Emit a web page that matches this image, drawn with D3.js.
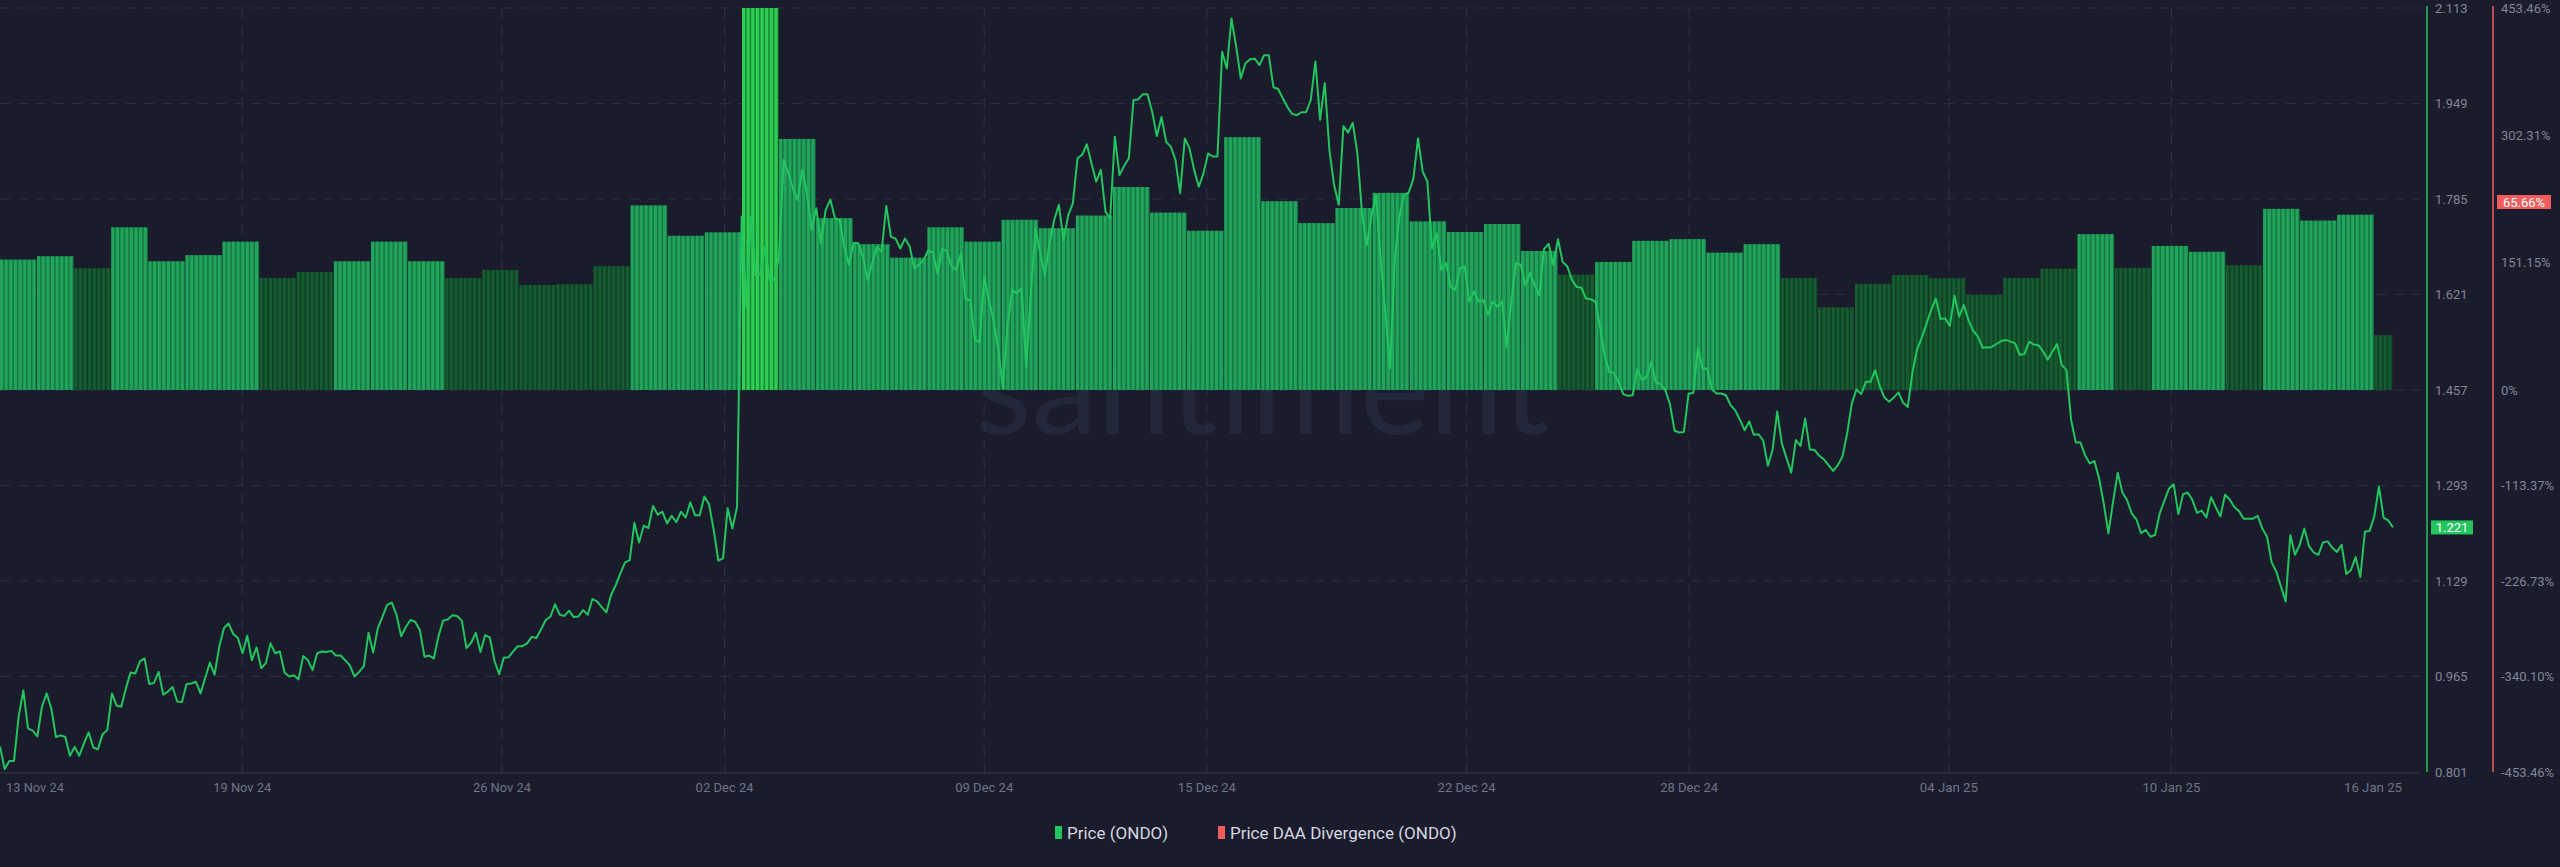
<!DOCTYPE html>
<html><head><meta charset="utf-8">
<script src="https://cdn.jsdelivr.net/npm/d3@7"></script>
<style>html,body{margin:0;padding:0;background:#1a1c2b;overflow:hidden}svg{display:block}</style>
</head><body>
<svg id="c" width="2560" height="867"></svg>
<script>
// ---- data ----
const startDate = "2024-11-13T00:00:00Z";
const priceEndDate = "2025-01-16T12:00:00Z";
const priceTicks = [0.801, 0.965, 1.129, 1.293, 1.457, 1.621, 1.785, 1.949, 2.113];
const divTickLabels = ["-453.46%", "-340.10%", "-226.73%", "-113.37%", "0%", "151.15%", "302.31%", "453.46%"];
const divTickValues = [-453.46, -340.10, -226.73, -113.37, 0, 151.15, 302.31, 453.46];
const dateTicks = ["2024-11-13","2024-11-19","2024-11-26","2024-12-02","2024-12-09","2024-12-15","2024-12-22","2024-12-28","2025-01-04","2025-01-10","2025-01-16"];
const dateLabels = ["13 Nov 24","19 Nov 24","26 Nov 24","02 Dec 24","09 Dec 24","15 Dec 24","22 Dec 24","28 Dec 24","04 Jan 25","10 Jan 25","16 Jan 25"];
// daily Price DAA divergence (%), one per day from 13 Nov 24
const divergence = [154.7,158.7,144.4,193,152.7,160,176,133,140,152.7,176,152.7,133,142.5,124.6,125.4,147,219,183,187,
 520,298,204,173,157,193,176,202,192,207,241,210.5,189,300,224,198,216,234,200,187.5,197,165,137,
 152,177,179,163,173,133,98,126,136.5,132.6,113,133,144,185,145,171,164,148,215,201,208,65];
// price (ONDO), 3-hourly
const price = [0.845,0.806,0.820,0.820,0.896,0.941,0.876,0.872,0.862,0.913,0.936,0.910,0.861,0.864,0.861,0.829,0.844,0.829,0.850,0.869,
0.843,0.840,0.866,0.873,0.936,0.915,0.913,0.945,0.972,0.970,0.991,0.996,0.952,0.954,0.973,0.934,0.939,0.947,0.922,0.921,
0.952,0.953,0.956,0.936,0.963,0.989,0.968,1.016,1.048,1.056,1.038,1.031,1.005,1.035,0.993,1.015,0.979,0.988,1.022,1.005,
1.008,0.972,0.965,0.967,0.960,1.000,0.993,0.976,1.005,1.008,1.007,1.009,1.001,1.001,0.993,0.984,0.965,0.973,0.983,1.040,
1.006,1.048,1.068,1.088,1.092,1.071,1.034,1.050,1.062,1.059,1.045,0.999,1.001,0.996,1.034,1.061,1.063,1.070,1.069,1.061,
1.014,1.023,1.040,1.007,1.036,1.032,0.992,0.969,0.997,0.998,1.008,1.017,1.017,1.022,1.033,1.031,1.046,1.062,1.068,1.089,
1.071,1.069,1.078,1.067,1.068,1.079,1.071,1.098,1.094,1.084,1.075,1.105,1.122,1.142,1.161,1.165,1.229,1.195,1.224,1.220,
1.258,1.243,1.248,1.228,1.241,1.230,1.248,1.238,1.264,1.242,1.242,1.274,1.261,1.217,1.164,1.168,1.254,1.219,1.256,
1.755,1.600,1.755,1.654,1.656,1.703,1.646,1.646,1.686,1.852,1.829,1.803,1.783,1.835,1.795,1.732,1.769,1.709,1.766,1.784,
1.752,1.749,1.703,1.672,1.710,1.709,1.686,1.646,1.675,1.702,1.695,1.773,1.720,1.717,1.700,1.717,1.704,1.666,1.672,1.680,
1.697,1.693,1.657,1.700,1.695,1.669,1.663,1.692,1.613,1.611,1.544,1.539,1.652,1.611,1.577,1.526,1.460,1.569,1.629,1.623,
1.632,1.497,1.623,1.735,1.692,1.654,1.709,1.749,1.775,1.714,1.757,1.778,1.855,1.861,1.879,1.846,1.815,1.835,1.763,1.752,
1.892,1.826,1.842,1.855,1.955,1.956,1.965,1.965,1.935,1.893,1.926,1.883,1.875,1.852,1.795,1.889,1.872,1.835,1.806,
1.829,1.863,1.858,1.858,2.038,2.009,2.095,2.047,1.992,2.018,2.025,2.026,2.015,2.032,2.032,1.977,1.974,1.958,1.943,1.931,
1.929,1.934,1.934,1.955,2.021,1.921,1.984,1.869,1.809,1.775,1.910,1.899,1.916,1.863,1.760,1.706,1.755,1.792,1.680,1.589,
1.494,1.680,1.755,1.792,1.796,1.820,1.889,1.832,1.815,1.700,1.726,1.663,1.675,1.634,1.629,1.666,1.669,1.609,1.626,1.609,
1.611,1.586,1.609,1.600,1.609,1.531,1.609,1.675,1.672,1.637,1.658,1.637,1.620,1.699,1.708,1.672,1.716,1.677,1.669,1.646,
1.634,1.633,1.614,1.613,1.609,1.566,1.517,1.488,1.486,1.471,
1.450,1.447,1.448,1.492,1.474,1.480,1.505,1.470,1.467,1.457,1.433,1.387,1.384,1.385,1.451,1.452,1.529,1.494,1.494,1.458,
1.451,1.451,1.448,1.431,1.422,1.406,1.388,1.403,1.380,1.381,1.370,1.327,1.354,1.420,1.365,1.340,1.315,1.371,1.361,1.408,
1.355,1.354,1.344,1.338,1.328,1.318,1.328,1.343,1.383,1.434,1.458,1.450,1.471,1.471,1.491,1.463,1.444,1.437,1.444,1.453,
1.435,1.428,1.488,1.527,1.547,1.571,1.594,1.614,1.579,1.580,1.567,1.619,1.583,1.603,1.577,1.559,1.549,1.530,1.530,1.531,
1.536,1.541,1.543,1.540,1.537,1.517,
1.519,1.540,1.535,1.534,1.523,1.509,1.523,1.536,1.500,1.491,1.406,1.367,1.367,1.345,1.331,1.335,1.305,1.262,1.211,1.265,
1.315,1.281,1.268,1.245,1.235,1.211,1.217,1.205,1.208,1.245,1.267,1.288,1.295,1.244,1.278,1.281,1.268,1.246,1.250,1.238,
1.273,1.256,1.240,1.277,1.269,1.256,1.249,1.236,1.236,1.236,1.241,1.219,1.205,1.161,1.145,1.119,1.094,1.208,1.174,1.191,
1.219,1.189,1.178,1.174,1.195,1.197,1.186,1.179,1.191,1.141,1.148,1.170,1.136,1.214,1.215,1.240,1.291,1.238,1.233,1.221];
const lastPriceLabel = "1.221";
const divBadgeLabel = "65.66%";
const legendItems = [{name:"Price (ONDO)",color:"#22c55e"},{name:"Price DAA Divergence (ONDO)",color:"#f25c5c"}];

// ---- layout ----
const DAY = 864e5;
const t0 = new Date(startDate);
const plotL = 0, plotR = 2420, plotT = 8, plotB = 772;
const x = d3.scaleUtc().domain([t0, new Date(+t0 + 65*DAY)]).range([0, 65*37.1]);
const y = d3.scaleLinear().domain([0.801, 2.113]).range([plotB, plotT]);
const yd = d3.scaleLinear().domain([-453.46, 453.46]).range([plotB, plotT]);
const tEnd = new Date(priceEndDate);

const svg = d3.select("#c");
const font = "Roboto, 'Noto Sans', sans-serif";

// watermark
svg.append("text").attr("x",1262).attr("y",434).attr("text-anchor","middle")
  .attr("font-family","Lato, 'Open Sans', sans-serif").attr("font-weight",400).attr("font-size",132)
  .attr("fill","#23273a").text("santiment");

// grid
const grid = svg.append("g");
grid.selectAll("line.h").data(priceTicks.slice(1)).join("line")
  .attr("x1",plotL).attr("x2",plotR).attr("y1",d=>y(d)).attr("y2",d=>y(d))
  .attr("stroke","#2b2f42").attr("stroke-dasharray","10,8").attr("stroke-width",1.2);
const tickTimes = dateTicks.map(d => new Date(+new Date(d+"T00:00:00Z") + 0.53*DAY));
grid.selectAll("line.v").data(tickTimes.slice(1,-1)).join("line")
  .attr("x1",d=>x(d)).attr("x2",d=>x(d)).attr("y1",plotT).attr("y2",plotB)
  .attr("stroke","#2b2f42").attr("stroke-dasharray","10,8").attr("stroke-width",1.2);

// bars (drawn as striped daily bars, 3-hour stripes)
const bars = svg.append("g");
const stripes = 8;
divergence.forEach((v,i) => {
  const s = new Date(+t0 + i*DAY), e = new Date(Math.min(+t0 + (i+1)*DAY, +tEnd));
  const x0 = x(s), x1 = x(e);
  const val = Math.min(v, 453.46);
  const spike = v > 453.46, bright = v >= 150;
  const base = spike ? "#1a8a3a" : bright ? "#157a45" : "#0e4023";
  const fg = spike ? "#2fcf52" : bright ? "#22a45d" : "#175c31";
  bars.append("rect").attr("x",x0).attr("width",Math.max(0,x1-x0-0.6))
    .attr("y",yd(val)).attr("height",yd(0)-yd(val)).attr("fill",base);
  const sw = (x(new Date(+s + DAY)) - x0)/stripes;
  for (let k=0;k<stripes;k++){
    const sx = x0 + k*sw;
    if (sx >= x1) break;
    bars.append("rect").attr("x",sx).attr("width",Math.min(sw*0.65, x1-sx))
      .attr("y",yd(val)).attr("height",yd(0)-yd(val)).attr("fill",fg);
  }
});

// price line
const n = price.length;
const tx = i => new Date(+t0 + i*(+tEnd - +t0)/(n-1));
svg.append("path").datum(price)
  .attr("d", d3.line().x((d,i)=>x(tx(i))).y(d=>y(d)))
  .attr("fill","none").attr("stroke","#22c55e").attr("stroke-width",2).attr("stroke-linejoin","round");

// bottom axis line
svg.append("line").attr("x1",0).attr("x2",plotR).attr("y1",plotB+1).attr("y2",plotB+1).attr("stroke","#2b2f42").attr("stroke-width",1.5);

// x labels
svg.append("g").selectAll("text").data(dateLabels).join("text")
  .attr("x",(d,i)=> i===0 ? 6 : Math.min(x(tickTimes[i]), 2373))
  .attr("text-anchor",(d,i)=> i===0 ? "start" : "middle")
  .attr("y",792).attr("font-family",font).attr("font-size",13).attr("fill","#6f7488")
  .attr("textLength",58).attr("lengthAdjust","spacingAndGlyphs").text(d=>d);

// right axes
svg.append("line").attr("x1",2427).attr("x2",2427).attr("y1",plotT-2).attr("y2",plotB).attr("stroke","#22c55e").attr("stroke-width",1.5);
svg.append("line").attr("x1",2493).attr("x2",2493).attr("y1",plotT-2).attr("y2",plotB).attr("stroke","#f25c5c").attr("stroke-width",1.5);
svg.append("g").selectAll("text").data(priceTicks).join("text")
  .attr("x",2435).attr("y",d=>y(d)+4.5).attr("font-family",font).attr("font-size",13).attr("fill","#80859a")
  .text(d=>d.toFixed(3));
svg.append("g").selectAll("text").data(divTickValues).join("text")
  .attr("x",2501).attr("y",d=>yd(d)+4.5).attr("font-family",font).attr("font-size",13).attr("fill","#80859a")
  .text((d,i)=>divTickLabels[i]);

// badges
const lp = price[n-1];
svg.append("rect").attr("x",2431).attr("y",y(lp)-7).attr("width",42).attr("height",14).attr("fill","#22c55e");
svg.append("text").attr("x",2452).attr("y",y(lp)+4.5).attr("text-anchor","middle").attr("font-family",font)
  .attr("font-size",13).attr("fill","#ffffff").text(lastPriceLabel);
svg.append("rect").attr("x",2497).attr("y",195).attr("width",54).attr("height",14).attr("fill","#f25c5c");
svg.append("text").attr("x",2524).attr("y",206.5).attr("text-anchor","middle").attr("font-family",font)
  .attr("font-size",13).attr("fill","#ffffff").text(divBadgeLabel);

// legend
const lg = svg.append("g").attr("font-family",font).attr("font-size",17).attr("fill","#d4d7e0");
const lx = [1055, 1218];
legendItems.forEach((it,i)=>{
  lg.append("rect").attr("x",lx[i]).attr("y",826).attr("width",7).attr("height",13).attr("fill",it.color);
  lg.append("text").attr("x",lx[i]+12).attr("y",839).text(it.name);
});
</script>
</body></html>
